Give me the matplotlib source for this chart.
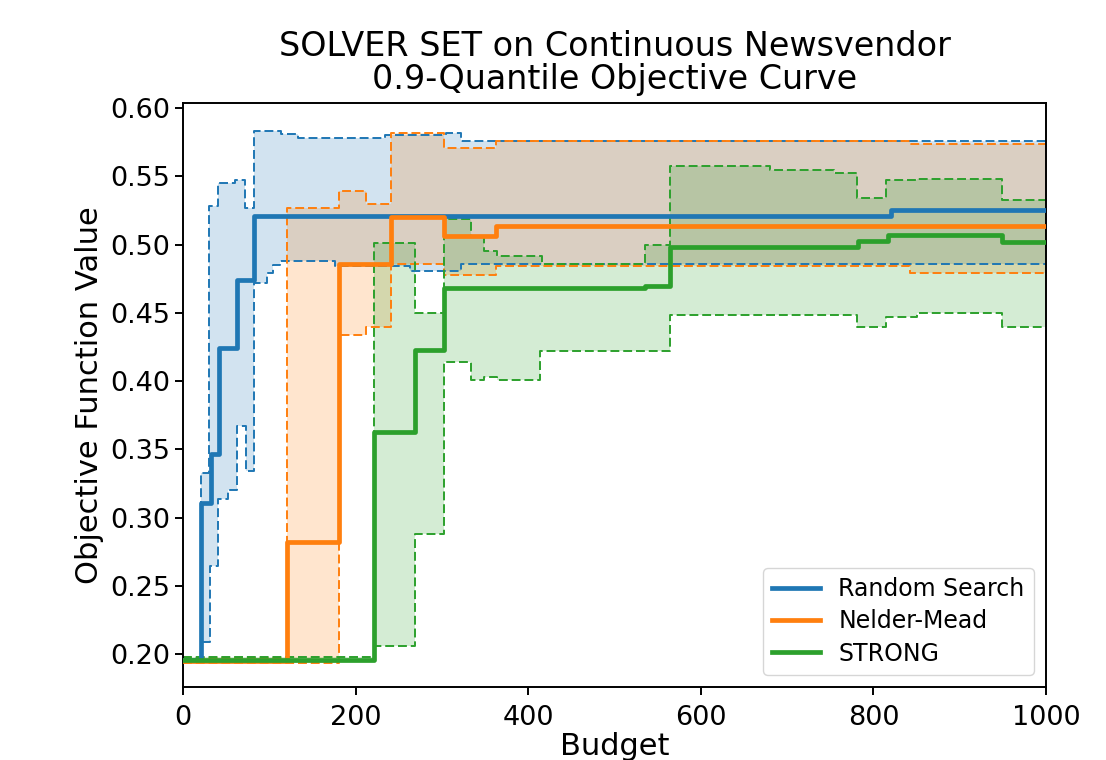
import numpy as np
import matplotlib
matplotlib.use("Agg")
import matplotlib.pyplot as plt

# ---------------- data ----------------
solvers = ["Random Search", "Nelder-Mead", "STRONG"]
budget_max = 1000

rs_x = [0, 21, 32, 42, 62, 82, 820]
rs_med = [0.196, 0.311, 0.347, 0.424, 0.474, 0.521, 0.525]
rs_up_x = [0, 21, 30, 41, 60, 72, 82, 114, 133, 234, 305, 322]
rs_up = [0.197, 0.333, 0.528, 0.545, 0.547, 0.527, 0.583, 0.581, 0.578, 0.580, 0.582, 0.576]
rs_lo_x = [0, 21, 31, 41, 52, 62, 73, 82, 97, 104, 112, 176, 263, 322]
rs_lo = [0.195, 0.209, 0.265, 0.314, 0.320, 0.367, 0.334, 0.472, 0.479, 0.485, 0.488, 0.484, 0.481, 0.486]

nm_x = [0, 121, 181, 241, 303, 363]
nm_med = [0.195, 0.2825, 0.486, 0.520, 0.506, 0.514]
nm_up_x = [0, 121, 181, 212, 241, 303, 363, 842]
nm_up = [0.197, 0.527, 0.539, 0.530, 0.5815, 0.5705, 0.576, 0.574]
nm_lo_x = [0, 181, 212, 241, 303, 363, 842]
nm_lo = [0.194, 0.434, 0.440, 0.486, 0.478, 0.484, 0.479]

st_x = [0, 221, 269, 303, 535, 564, 782, 817, 949]
st_med = [0.196, 0.363, 0.423, 0.468, 0.470, 0.4985, 0.503, 0.507, 0.502]
st_up_x = [0, 221, 269, 303, 334, 349, 364, 416, 535, 564, 680, 754, 781, 815, 850, 949]
st_up = [0.198, 0.501, 0.450, 0.519, 0.506, 0.495, 0.492, 0.486, 0.500, 0.5575, 0.5546,
         0.5527, 0.534, 0.547, 0.548, 0.533]
st_lo_x = [0, 221, 269, 303, 334, 349, 364, 414, 564, 781, 815, 850, 949]
st_lo = [0.195, 0.206, 0.288, 0.414, 0.401, 0.403, 0.401, 0.422, 0.4485, 0.4395, 0.447,
         0.450, 0.4395]

colors = ["#1f77b4", "#ff7f0e", "#2ca02c"]

# ---------------- helpers ----------------
def ext(xs, ys):
    return np.append(np.asarray(xs, float), budget_max), np.append(np.asarray(ys, float), ys[-1])


def step_eval(xs, ys, grid):
    xs = np.asarray(xs, float)
    ys = np.asarray(ys, float)
    idx = np.searchsorted(xs, grid, side="right") - 1
    idx = np.clip(idx, 0, len(ys) - 1)
    return ys[idx]


plt.rcParams["lines.scale_dashes"] = False
fig = plt.figure(figsize=(11.06, 7.6), dpi=100)
ax = fig.add_axes([183 / 1106, 1 - 687 / 760, (1046 - 183) / 1106, (687 - 103) / 760])

data = [
    (rs_x, rs_med, rs_up_x, rs_up, rs_lo_x, rs_lo),
    (nm_x, nm_med, nm_up_x, nm_up, nm_lo_x, nm_lo),
    (st_x, st_med, st_up_x, st_up, st_lo_x, st_lo),
]

dash = (0, (6.4, 2.8))
for name, col, (mx, my, ux, uy, lx, ly) in zip(solvers, colors, data):
    X, Y = ext(mx, my)
    ax.step(X, Y, where="post", color=col, lw=3.4, label=name, zorder=3)
    grid = np.unique(np.concatenate([ux, lx, [budget_max]])).astype(float)
    up = step_eval(ux, uy, grid)
    lo = step_eval(lx, ly, grid)
    ax.fill_between(grid, lo, up, step="post", color=col, alpha=0.2, lw=0, zorder=1)
    UX, UY = ext(ux, uy)
    LX, LY = ext(lx, ly)
    ax.step(UX, UY, where="post", color=col, lw=1.4, linestyle=dash, zorder=2)
    ax.step(LX, LY, where="post", color=col, lw=1.4, linestyle=dash, zorder=2)

ax.set_xlim(0, budget_max)
ax.set_ylim(0.1761, 0.6037)
ax.set_yticks(np.arange(0.20, 0.601, 0.05))
ax.set_xticks([0, 200, 400, 600, 800, 1000])
ax.tick_params(labelsize=19.5, length=6, width=1.4)
ax.tick_params(axis="x", pad=7)
for sp in ax.spines.values():
    sp.set_linewidth(1.4)

ax.set_xlabel("Budget", fontsize=22, labelpad=1)
ax.set_ylabel("Objective Function Value", fontsize=22)
ax.set_title("SOLVER SET on Continuous Newsvendor\n0.9-Quantile Objective Curve",
             fontsize=24, pad=10, linespacing=1.0)
ax.legend(loc="lower right", fontsize=17, handlelength=2.0, borderaxespad=0.5,
          labelspacing=0.35)

fig.savefig("out.png", dpi=100)
